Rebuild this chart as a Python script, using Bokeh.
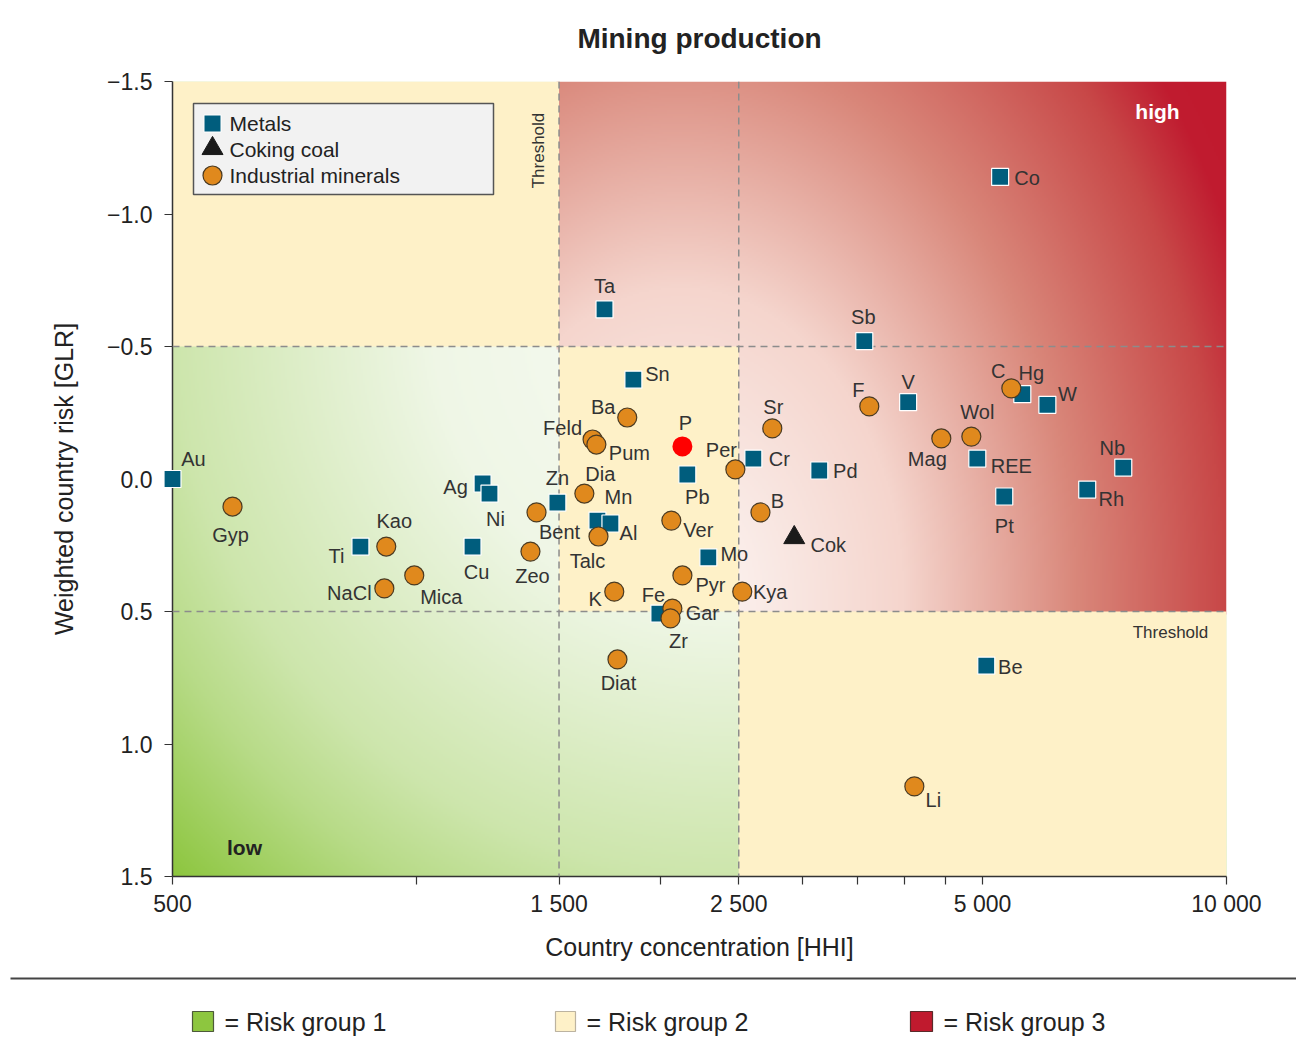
import numpy as np
from bokeh.plotting import figure
from bokeh.models import (Range1d, LinearScale, FixedTicker, CustomJSTickFormatter,
                          Span, ColumnDataSource)
from bokeh.embed import file_html
from bokeh.resources import INLINE
from bokeh.core.properties import value

# ---------------- data ----------------
metal_names = ["Au", "Co", "Ta", "Sb", "Sn", "V", "Hg", "W", "Cr", "Pd", "REE", "Nb", "Rh",
               "Pt", "Pb", "Ag", "Ni", "Zn", "Mn", "Al", "Ti", "Cu", "Mo", "Fe", "Be"]
metal_hhi = [500, 5255, 1707, 3572, 1853, 4046, 5597, 6010, 2606, 3143, 4925, 7457, 6731,
             5317, 2160, 1207, 1231, 1493, 1673, 1736, 853, 1173, 2293, 1995, 5052]
metal_glr = [0.0, -1.14, -0.64, -0.52, -0.375, -0.29, -0.32, -0.28, -0.077, -0.032, -0.077,
             -0.043, 0.04, 0.066, -0.017, 0.017, 0.055, 0.089, 0.157, 0.168, 0.255, 0.255,
             0.296, 0.508, 0.704]

coal_names = ["Cok"]
coal_hhi = [2927]
coal_glr = [0.221]

mineral_names = ["Gyp", "Kao", "NaCl", "Mica", "Bent", "Zeo", "Feld", "Pum", "Ba", "Dia",
                 "Talc", "K", "Diat", "Ver", "Pyr", "Gar", "Zr", "Per", "Sr", "B", "Kya",
                 "F", "Mag", "Wol", "C", "Li"]
mineral_hhi = [593, 918, 913, 994, 1407, 1383, 1650, 1668, 1821, 1612, 1678, 1755, 1771,
               2064, 2130, 2070, 2059, 2476, 2750, 2659, 2525, 3623, 4446, 4842, 5425, 4118]
mineral_glr = [0.104, 0.255, 0.413, 0.364, 0.126, 0.274, -0.149, -0.130, -0.232, 0.055,
               0.217, 0.425, 0.681, 0.157, 0.364, 0.489, 0.526, -0.036, -0.191, 0.126,
               0.425, -0.274, -0.153, -0.160, -0.342, 1.160]

highlight_names = ["P"]
highlight_hhi = [2130]
highlight_glr = [-0.123]

x_thresholds = [1500, 2500]
y_thresholds = [-0.5, 0.5]
x_tick_positions = [500, 1000, 1500, 2000, 2500, 3000, 3500, 4000, 4500, 5000, 10000]
x_tick_values = [500, 1500, 2500, 5000, 10000]
x_tick_labels = ["500", "1 500", "2 500", "5 000", "10 000"]
y_tick_values = [-1.5, -1.0, -0.5, 0.0, 0.5, 1.0, 1.5]
legend_labels = ["Metals", "Coking coal", "Industrial minerals"]
risk_labels = ["= Risk group 1", "= Risk group 2", "= Risk group 3"]
title_text = "Mining production"

# label offsets (pixels, label centre relative to marker centre; y down)
label_offsets = {
    "Au": (21, -20), "Co": (27, 1), "Ta": (0, -23), "Sb": (-1, -24), "Sn": (24, -6),
    "V": (0, -20), "Hg": (9, -21), "W": (20, -11), "Cr": (26, 0), "Pd": (26, 0),
    "REE": (34, 7), "Nb": (-11, -20), "Rh": (24, 9), "Pt": (0, 30), "Pb": (10, 23),
    "Ag": (-27, 3), "Ni": (6, 25), "Zn": (0, -25), "Mn": (21, -24), "Al": (18, 9),
    "Ti": (-24, 9), "Cu": (4, 25), "Mo": (26, -3), "Fe": (-6, -19), "Be": (24, 1),
    "Cok": (34, 7),
    "Gyp": (-2, 28), "Kao": (8, -26), "NaCl": (-35, 5), "Mica": (27, 22), "Bent": (23, 20),
    "Zeo": (2, 24), "Feld": (-30, -12), "Pum": (33, 8), "Ba": (-24, -11), "Dia": (16, -20),
    "Talc": (-11, 24), "K": (-19, 7), "Diat": (1, 24), "Ver": (27, 9), "Pyr": (28, 10),
    "Gar": (30, 4), "Zr": (8, 23), "Per": (-14, -19), "Sr": (1, -21), "B": (17, -11),
    "Kya": (28, 0), "F": (-11, -16), "Mag": (-14, 21), "Wol": (6, -25), "C": (-13, -17),
    "Li": (19, 14), "P": (3, -23),
}

# ---------------- styles ----------------
FONT = "Liberation Sans"
METAL_COLOR = "#005D7D"
MINERAL_COLOR = "#E0891D"
YELLOW = "#FEF1C8"
GREEN = "#8DC63F"
RED = "#C01A2E"

X_LO, X_HI = 500, 10000
Y_BOTTOM, Y_TOP = 1.5, -1.5
W, H = 1054, 795
BL, BR, BT, BB = 172, 70, 81, 176

p = figure(frame_width=W, frame_height=H, x_axis_type="log",
           x_range=Range1d(X_LO, X_HI), y_range=Range1d(Y_BOTTOM, Y_TOP),
           output_backend="svg", toolbar_location=None,
           min_border_left=BL, min_border_right=BR, min_border_top=BT, min_border_bottom=BB,
           background_fill_color="white", border_fill_color="white")
p.outline_line_color = None
p.grid.visible = False

p.extra_x_ranges = {"px": Range1d(0, W)}
p.extra_y_ranges = {"px": Range1d(0, H)}
p.extra_x_scales = {"px": LinearScale()}
p.extra_y_scales = {"px": LinearScale()}


def fx_of(x):
    return W * np.log10(np.asarray(x, float) / X_LO) / np.log10(X_HI / X_LO)


def fy_of(y):
    return H * (Y_BOTTOM - np.asarray(y, float)) / (Y_BOTTOM - Y_TOP)


# ---------------- gradient background ----------------
S = 2
nx, ny = W // S, int(np.ceil(H / S))
gx = (np.arange(nx) + 0.5) * W / nx
gy = (np.arange(ny) + 0.5) * H / ny
FX, FY = np.meshgrid(gx, gy)
xa, xb = fx_of(x_thresholds[0]), fx_of(x_thresholds[1])
ya, yb = fy_of(y_thresholds[0]), fy_of(y_thresholds[1])
slack = 3
red_mask = ((FX + slack >= xa) & (FY + slack >= ya)) | ((FX + slack >= xb) & (FY + slack >= yb))

# red: radial-ish from a pale centre towards the top-right corner
cx, cy = 508.0, 276.0
d = np.sqrt((FX - cx) ** 2 + ((FY - cy) / 1.4) ** 2) / 640.0
t = np.clip(d, 0, 1)
rs = [0, 0.35, 0.62, 0.85, 0.95, 1.0]
rr = [253, 245, 217, 200, 192, 192]
rg = [248, 213, 135, 72, 28, 26]
rb = [246, 205, 122, 72, 48, 46]
R_r, R_g, R_b = np.interp(t, rs, rr), np.interp(t, rs, rg), np.interp(t, rs, rb)

# green: radial from a pale centre towards the bottom-left corner
gcx, gcy = 560.0, 560.0
dg = np.sqrt((FX - gcx) ** 2 + (FY - gcy) ** 2)
tg = np.interp(dg, [0, 300, 400, 560, 650, 790], [0, 0.08, 0.2, 0.4, 0.6, 1.0])
G_r = 248 + (141 - 248) * tg
G_g = 251 + (198 - 251) * tg
G_b = 245 + (63 - 245) * tg

img = np.empty((ny, nx), dtype=np.uint32)
view = img.view(dtype=np.uint8).reshape((ny, nx, 4))
view[..., 0] = np.where(red_mask, R_r, G_r).astype(np.uint8)
view[..., 1] = np.where(red_mask, R_g, G_g).astype(np.uint8)
view[..., 2] = np.where(red_mask, R_b, G_b).astype(np.uint8)
view[..., 3] = 255
p.image_rgba(image=[img], x=0, y=0, dw=W, dh=H, x_range_name="px", y_range_name="px")

p.quad(left=[X_LO, x_thresholds[0], x_thresholds[1]],
       right=[x_thresholds[0], x_thresholds[1], X_HI],
       top=[Y_TOP, y_thresholds[0], y_thresholds[1]],
       bottom=[y_thresholds[0], y_thresholds[1], Y_BOTTOM],
       fill_color=YELLOW, line_color=None)

for xv in x_thresholds:
    p.add_layout(Span(location=xv, dimension="height", line_color="#8c8c8c",
                      line_dash="7 5", line_width=1.5))
for yv in y_thresholds:
    p.add_layout(Span(location=yv, dimension="width", line_color="#8c8c8c",
                      line_dash="7 5", line_width=1.5))

p.text(x=[fx_of(x_thresholds[0]) - 21], y=[726], text=["Threshold"], angle=np.pi / 2,
       text_align="center", text_baseline="middle", text_font=value(FONT),
       text_font_size="17px", text_color="#333333", x_range_name="px", y_range_name="px")
p.text(x=[998], y=[fy_of(y_thresholds[1]) - 21], text=["Threshold"],
       text_align="center", text_baseline="middle", text_font=value(FONT),
       text_font_size="17px", text_color="#333333", x_range_name="px", y_range_name="px")
p.text(x=[985], y=[765], text=["high"], text_align="center", text_baseline="middle",
       text_font=value(FONT), text_font_size="21px", text_font_style="bold",
       text_color="white", x_range_name="px", y_range_name="px")
p.text(x=[72], y=[29], text=["low"], text_align="center", text_baseline="middle",
       text_font=value(FONT), text_font_size="21px", text_font_style="bold",
       text_color="#222222", x_range_name="px", y_range_name="px")

# legend box
p.quad(left=[21], right=[321], bottom=[682], top=[773], fill_color="#F2F2F2",
       line_color="#555555", line_width=1.5, x_range_name="px", y_range_name="px")
leg_y = [753, 727, 701]
p.scatter(x=[40], y=[leg_y[0]], marker="square", size=17, fill_color=METAL_COLOR,
          line_color="white", line_width=1, x_range_name="px", y_range_name="px")
p.scatter(x=[40], y=[leg_y[1] + 1], marker="triangle", size=21, fill_color="#1A1A1A",
          line_color="#1A1A1A", x_range_name="px", y_range_name="px")
p.scatter(x=[40], y=[leg_y[2]], marker="circle", size=19, fill_color=MINERAL_COLOR,
          line_color="#4A3A22", line_width=1.2, x_range_name="px", y_range_name="px")
p.text(x=[57] * 3, y=leg_y, text=legend_labels, text_align="left", text_baseline="middle",
       text_font=value(FONT), text_font_size="21px", text_color="#222222",
       x_range_name="px", y_range_name="px")

# data points
p.scatter(metal_hhi, metal_glr, marker="square", size=17, fill_color=METAL_COLOR,
          line_color="white", line_width=1.2, level="overlay")
p.scatter(coal_hhi, coal_glr, marker="triangle", size=21, fill_color="#1A1A1A",
          line_color="#1A1A1A", level="overlay")
p.scatter(mineral_hhi, mineral_glr, marker="circle", size=19, fill_color=MINERAL_COLOR,
          line_color="#4A3A22", line_width=1.2, level="overlay")
p.scatter(highlight_hhi, highlight_glr, marker="circle", size=20, fill_color="#FF0000",
          line_color=None, level="overlay")

all_names = metal_names + coal_names + mineral_names + highlight_names
all_x = metal_hhi + coal_hhi + mineral_hhi + highlight_hhi
all_y = metal_glr + coal_glr + mineral_glr + highlight_glr
lab = ColumnDataSource(dict(x=all_x, y=all_y, text=all_names,
                            dx=[label_offsets[n][0] for n in all_names],
                            dy=[label_offsets[n][1] for n in all_names]))
p.text(x="x", y="y", text="text", x_offset="dx", y_offset="dy", source=lab,
       text_align="center", text_baseline="middle", text_font=value(FONT),
       text_font_size="20px", text_color="#333333", level="overlay")

# ---------------- title (above the frame) ----------------
p.text(x=[W / 2], y=[H + 43], text=[title_text], text_align="center", text_baseline="middle",
       text_font=value(FONT), text_font_size="28px", text_font_style="bold",
       text_color="#222222", x_range_name="px", y_range_name="px", level="overlay")

# ---------------- bottom risk-group legend (below the frame) ----------------
line_fy = -102
p.segment(x0=[-BL + 10], y0=[line_fy], x1=[W + BR], y1=[line_fy], line_color="#444444",
          line_width=2, x_range_name="px", y_range_name="px", level="overlay")
sw_left = [20, 383, 738]
sw_w = [21, 20, 22]
p.quad(left=sw_left, right=[l + w for l, w in zip(sw_left, sw_w)], bottom=[-155] * 3,
       top=[-135] * 3, fill_color=[GREEN, YELLOW, RED],
       line_color=["#4d5a3a", "#bcb3a0", "#5a2a2a"], line_width=1.2,
       x_range_name="px", y_range_name="px", level="overlay")
p.text(x=[l + w + 11 for l, w in zip(sw_left, sw_w)], y=[-145] * 3, text=risk_labels,
       text_align="left", text_baseline="middle", text_font=value(FONT),
       text_font_size="25px", text_color="#222222", x_range_name="px", y_range_name="px",
       level="overlay")

# ---------------- axes ----------------
p.xaxis.ticker = FixedTicker(ticks=x_tick_positions, minor_ticks=[])
p.xaxis.formatter = CustomJSTickFormatter(
    args=dict(vals=x_tick_values, labs=x_tick_labels),
    code="const i = vals.indexOf(tick); return i >= 0 ? labs[i] : '';")
p.yaxis.ticker = FixedTicker(ticks=y_tick_values, minor_ticks=[])
p.yaxis.formatter = CustomJSTickFormatter(
    code="const a = Math.abs(tick).toFixed(1); return (tick < -1e-9 ? '\u2212' : '') + a;")

for ax in (p.xaxis[0], p.yaxis[0]):
    ax.axis_line_color = "#333333"
    ax.axis_line_width = 1.5
    ax.major_tick_line_color = "#333333"
    ax.major_tick_line_width = 1.2
    ax.major_tick_out = 8
    ax.major_tick_in = 0
    ax.minor_tick_line_color = None
    ax.major_label_text_font = FONT
    ax.major_label_text_font_size = "23px"
    ax.major_label_text_color = "#222222"
    ax.axis_label_text_font = FONT
    ax.axis_label_text_font_size = "25px"
    ax.axis_label_text_font_style = "normal"
    ax.axis_label_text_color = "#222222"

p.xaxis.axis_label = "Country concentration [HHI]"
p.yaxis.axis_label = "Weighted country risk [GLR]"
p.xaxis.major_label_standoff = 6
p.xaxis.axis_label_standoff = 13
p.yaxis.major_label_standoff = 12
p.yaxis.axis_label_standoff = 26

open("out.html", "w").write(file_html(p, INLINE))
